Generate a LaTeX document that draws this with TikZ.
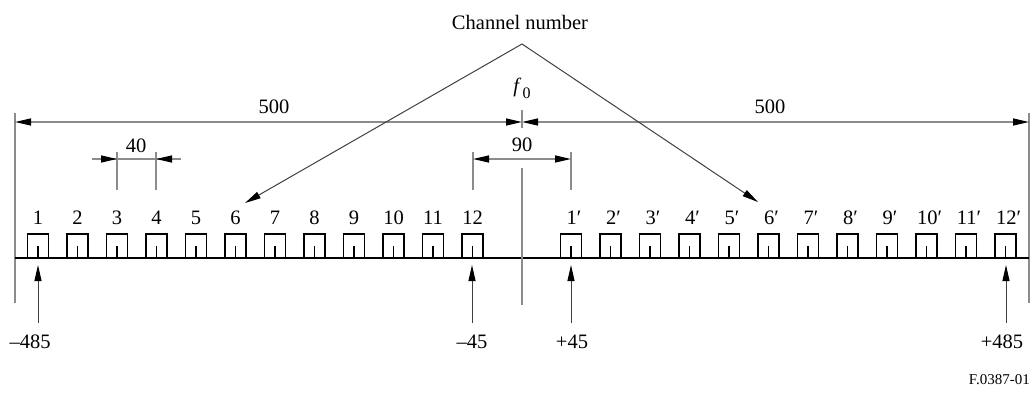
\documentclass[tikz,border=0pt]{standalone}
\usepackage{fontspec}
\setmainfont{Liberation Serif}
\usetikzlibrary{arrows.meta}
\begin{document}
\begin{tikzpicture}[x=1pt,y=-1pt,
  dimln/.style={draw=black!45, line width=1.3pt},
  thinln/.style={draw=black!75, line width=1pt},
  axisln/.style={draw=black, line width=1.8pt},
  tipend/.style={-{Triangle[length=16pt,width=7pt,color=black]}},
  tipboth/.style={{Triangle[length=16pt,width=7pt,color=black]}-{Triangle[length=16pt,width=7pt,color=black]}},
  chbox/.style={draw=black, line width=1.6pt, minimum width=21pt, minimum height=24pt, inner sep=0pt, anchor=south},
  lab/.style={inner sep=0pt, font=\fontsize{20.5}{24}\selectfont},
  smalllab/.style={inner sep=0pt, font=\fontsize{15}{18}\selectfont}]
\useasboundingbox (0,0) rectangle (1033,392);

% boundaries and axis
\coordinate (bl) at (15,113); \coordinate (blb) at (15,303);
\coordinate (br) at (1029,113); \coordinate (brb) at (1029,303);
\draw[dimln] (bl) -- (blb);
\draw[dimln] (br) -- (brb);
\coordinate (axl) at (15,258); \coordinate (axr) at (1029,258);

% channel boxes
\foreach \i in {1,...,12} {
  \pgfmathsetmacro\xx{38+39.5*(\i-1)}
  \node[chbox] (L\i) at (\xx,258.5) {};
  \draw[line width=1.4pt] (L\i.south) -- ++(0,-13);
  \node[lab] (nL\i) at (\xx,218) {\i};
  \pgfmathsetmacro\xr{571+39.5*(\i-1)}
  \node[chbox] (R\i) at (\xr,258.5) {};
  \draw[line width=1.4pt] (R\i.south) -- ++(0,-13);
  \node[lab] (nR\i) at (\xr+3,218) {\i′};
}
\draw[axisln] (axl) -- (axr);

% 500 dimensions
\coordinate (c0) at (522,122);
\coordinate (lt) at (15,122);
\coordinate (rt) at (1029,122);
\draw[dimln, tipboth] (lt) -- (c0);
\draw[dimln, tipboth] (rt) -- (c0);
\node[lab] (l500a) at (274,107) {500};
\node[lab] (l500b) at (770,107) {500};
\coordinate (f0t) at (522,110); \coordinate (f0b) at (522,128);
\draw[dimln] (f0t) -- (f0b);
\node[lab] (f0) at (522,88) {\textit{f}\kern1pt\raisebox{-6pt}{\fontsize{16}{16}\selectfont 0}};

% 40 dimension
\coordinate (e3t) at (117,152); \coordinate (e3b) at (117,190);
\coordinate (e4t) at (156,152); \coordinate (e4b) at (156,190);
\coordinate (d40l) at (92,159); \coordinate (d40r) at (181,159);
\coordinate (d40a) at (117,159); \coordinate (d40b) at (156,159);
\draw[dimln] (e3t) -- (e3b);
\draw[dimln] (e4t) -- (e4b);
\draw[dimln] (d40l) -- (d40r);
\draw[dimln, tipend] (d40l) -- (d40a);
\draw[dimln, tipend] (d40r) -- (d40b);
\node[lab] (l40) at (136,146) {40};

% 90 dimension
\coordinate (e12t) at (473,152); \coordinate (e12b) at (473,190);
\coordinate (e1pt) at (571,152); \coordinate (e1pb) at (571,190);
\coordinate (d90l) at (473,159); \coordinate (d90r) at (571,159);
\draw[dimln] (e12t) -- (e12b);
\draw[dimln] (e1pt) -- (e1pb);
\draw[dimln, tipboth] (d90l) -- (d90r);
\node[lab] (l90) at (522,145) {90};
\coordinate (ct) at (522,168); \coordinate (cb) at (522,305);
\draw[dimln] (ct) -- (cb);

% channel number
\node[lab] (chn) at (520,22) {Channel number};
\coordinate (apex) at (522,44);
\coordinate (t6) at (245,203);
\coordinate (t6p) at (758,202);
\draw[thinln, tipend] (apex) -- (t6);
\draw[thinln, tipend] (apex) -- (t6p);

% bottom arrows
\foreach \n/\x in {a/38, b/472, c/571, d/1006} {
  \coordinate (ba\n) at (\x,323);
  \coordinate (bt\n) at (\x,265);
  \draw[thinln, tipend] (ba\n) -- (bt\n);
}
\node[lab] (m485) at (30,342) {–485};
\node[lab] (m45) at (472,342) {–45};
\node[lab] (p45) at (572,342) {+45};
\node[lab] (p485) at (1002,342) {+485};

\node[smalllab, anchor=east] (fig) at (1030,380) {F.0387-01};
\end{tikzpicture}
\end{document}
